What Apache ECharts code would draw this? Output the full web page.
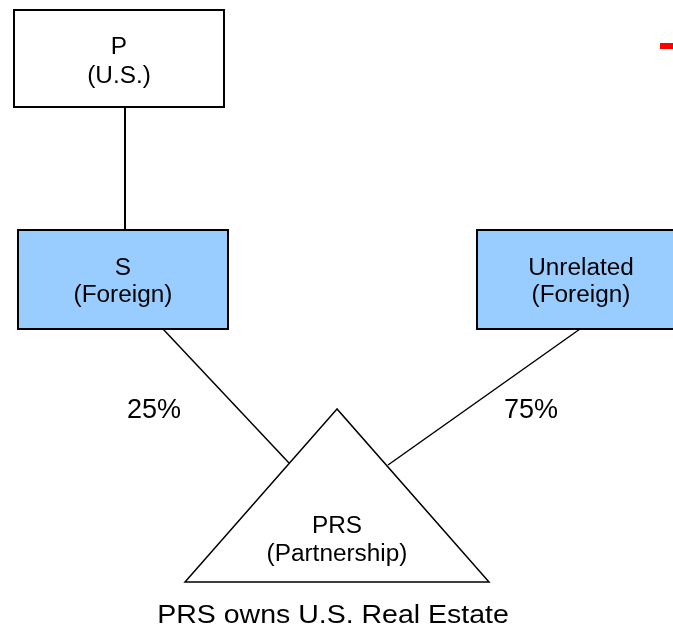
<!DOCTYPE html>
<html>
<head>
<meta charset="utf-8">
<script src="https://cdn.jsdelivr.net/npm/echarts@6/dist/echarts.min.js"></script>
<style>html,body{margin:0;padding:0;background:#fff}#c{width:673px;height:628px}</style>
</head>
<body>
<div id="c"></div>
<script>
// ---- data ----
const entityNames = ['P', 'S', 'Unrelated', 'PRS'];
const entityNotes = ['(U.S.)', '(Foreign)', '(Foreign)', '(Partnership)'];
const ownershipFrom = ['S', 'Unrelated'];
const ownershipPct = [25, 75];
const caption = 'PRS owns U.S. Real Estate';

// ---- layout (positions in diagram space, not data) ----
const FONT = '"Liberation Sans", Arial, sans-serif';
const boxLayout = {
  P: { x0: 14, y0: 10, x1: 224, y1: 107, fill: '#ffffff', ty1: 48, ty2: 77 },
  S: { x0: 18, y0: 230, x1: 228, y1: 329, fill: '#99ccff', ty1: 269, ty2: 296 },
  Unrelated: { x0: 477, y0: 230, x1: 690, y1: 329, fill: '#99ccff', tx: 581, ty1: 269, ty2: 296 }
};
const triLayout = { apex: [337, 409], left: [185, 582], right: [489, 582], ty1: 527, ty2: 555 };
const linkLayout = {
  'P-S': [[125, 107], [125, 230]],
  S: [[163, 329], [289, 463]],
  Unrelated: [[580, 329], [388, 465]]
};
const pctLabelPos = { S: [154, 411], Unrelated: [531, 411] };
const captionPos = [333, 616];

const chart = echarts.init(document.getElementById('c'), null, { renderer: 'canvas' });

function txt(api, s, p, size, sx) {
  const c = api.coord(p);
  return { type: 'text', x: c[0], y: c[1], scaleX: sx || 1, scaleY: 1,
    style: { text: s, x: 0, y: 0, textAlign: 'center', textVerticalAlign: 'middle', fontSize: size, fontFamily: FONT, fill: '#000' } };
}
function seg(api, a, b, w) {
  const p = api.coord(a), q = api.coord(b);
  return { type: 'line', shape: { x1: p[0], y1: p[1], x2: q[0], y2: q[1] }, style: { stroke: '#000', lineWidth: w } };
}

const items = [];
entityNames.forEach((n, i) => items.push({ kind: 'entity', name: n, note: entityNotes[i] }));
ownershipFrom.forEach((n, i) => items.push({ kind: 'own', name: n, pct: ownershipPct[i] }));
items.push({ kind: 'link', name: 'P-S' });
items.push({ kind: 'caption', name: caption });
items.push({ kind: 'mark' });

chart.setOption({
  animation: false,
  grid: { left: 0, right: 0, top: 0, bottom: 0 },
  xAxis: { type: 'value', min: 0, max: 673, show: false },
  yAxis: { type: 'value', min: 0, max: 628, inverse: true, show: false },
  series: [{
    type: 'custom',
    clip: false,
    data: items.map((d, i) => [i]),
    encode: { x: 0 },
    renderItem: function (params, api) {
      const d = items[params.dataIndex];
      const children = [];
      if (d.kind === 'entity') {
        if (d.name === 'PRS') {
          const a = api.coord(triLayout.apex), l = api.coord(triLayout.left), r = api.coord(triLayout.right);
          children.push({ type: 'polygon', shape: { points: [a, l, r] }, style: { fill: '#fff', stroke: '#000', lineWidth: 1.5 } });
          children.push(txt(api, d.name, [triLayout.apex[0], triLayout.ty1], 23, 1.06));
          children.push(txt(api, d.note, [triLayout.apex[0], triLayout.ty2], 23, 1.06));
        } else {
          const b = boxLayout[d.name];
          const p0 = api.coord([b.x0, b.y0]), p1 = api.coord([b.x1, b.y1]);
          children.push({ type: 'rect', shape: { x: p0[0], y: p0[1], width: p1[0] - p0[0], height: p1[1] - p0[1] }, style: { fill: b.fill, stroke: '#000', lineWidth: 2 } });
          const tx = b.tx !== undefined ? b.tx : (b.x0 + b.x1) / 2;
          children.push(txt(api, d.name, [tx, b.ty1], 23, 1.06));
          children.push(txt(api, d.note, [tx, b.ty2], 23, 1.06));
        }
      } else if (d.kind === 'own') {
        const L = linkLayout[d.name];
        children.push(seg(api, L[0], L[1], 1.5));
        children.push(txt(api, d.pct + '%', pctLabelPos[d.name], 27, 1));
      } else if (d.kind === 'link') {
        const L = linkLayout[d.name];
        children.push(seg(api, L[0], L[1], 2));
      } else if (d.kind === 'caption') {
        children.push(txt(api, d.name, captionPos, 25, 1.14));
      } else if (d.kind === 'mark') {
        const p0 = api.coord([660, 43]), p1 = api.coord([673, 49]);
        children.push({ type: 'rect', shape: { x: p0[0], y: p0[1], width: p1[0] - p0[0], height: p1[1] - p0[1] }, style: { fill: '#ff0000' } });
      }
      return { type: 'group', children: children };
    }
  }]
});
</script>
</body>
</html>
